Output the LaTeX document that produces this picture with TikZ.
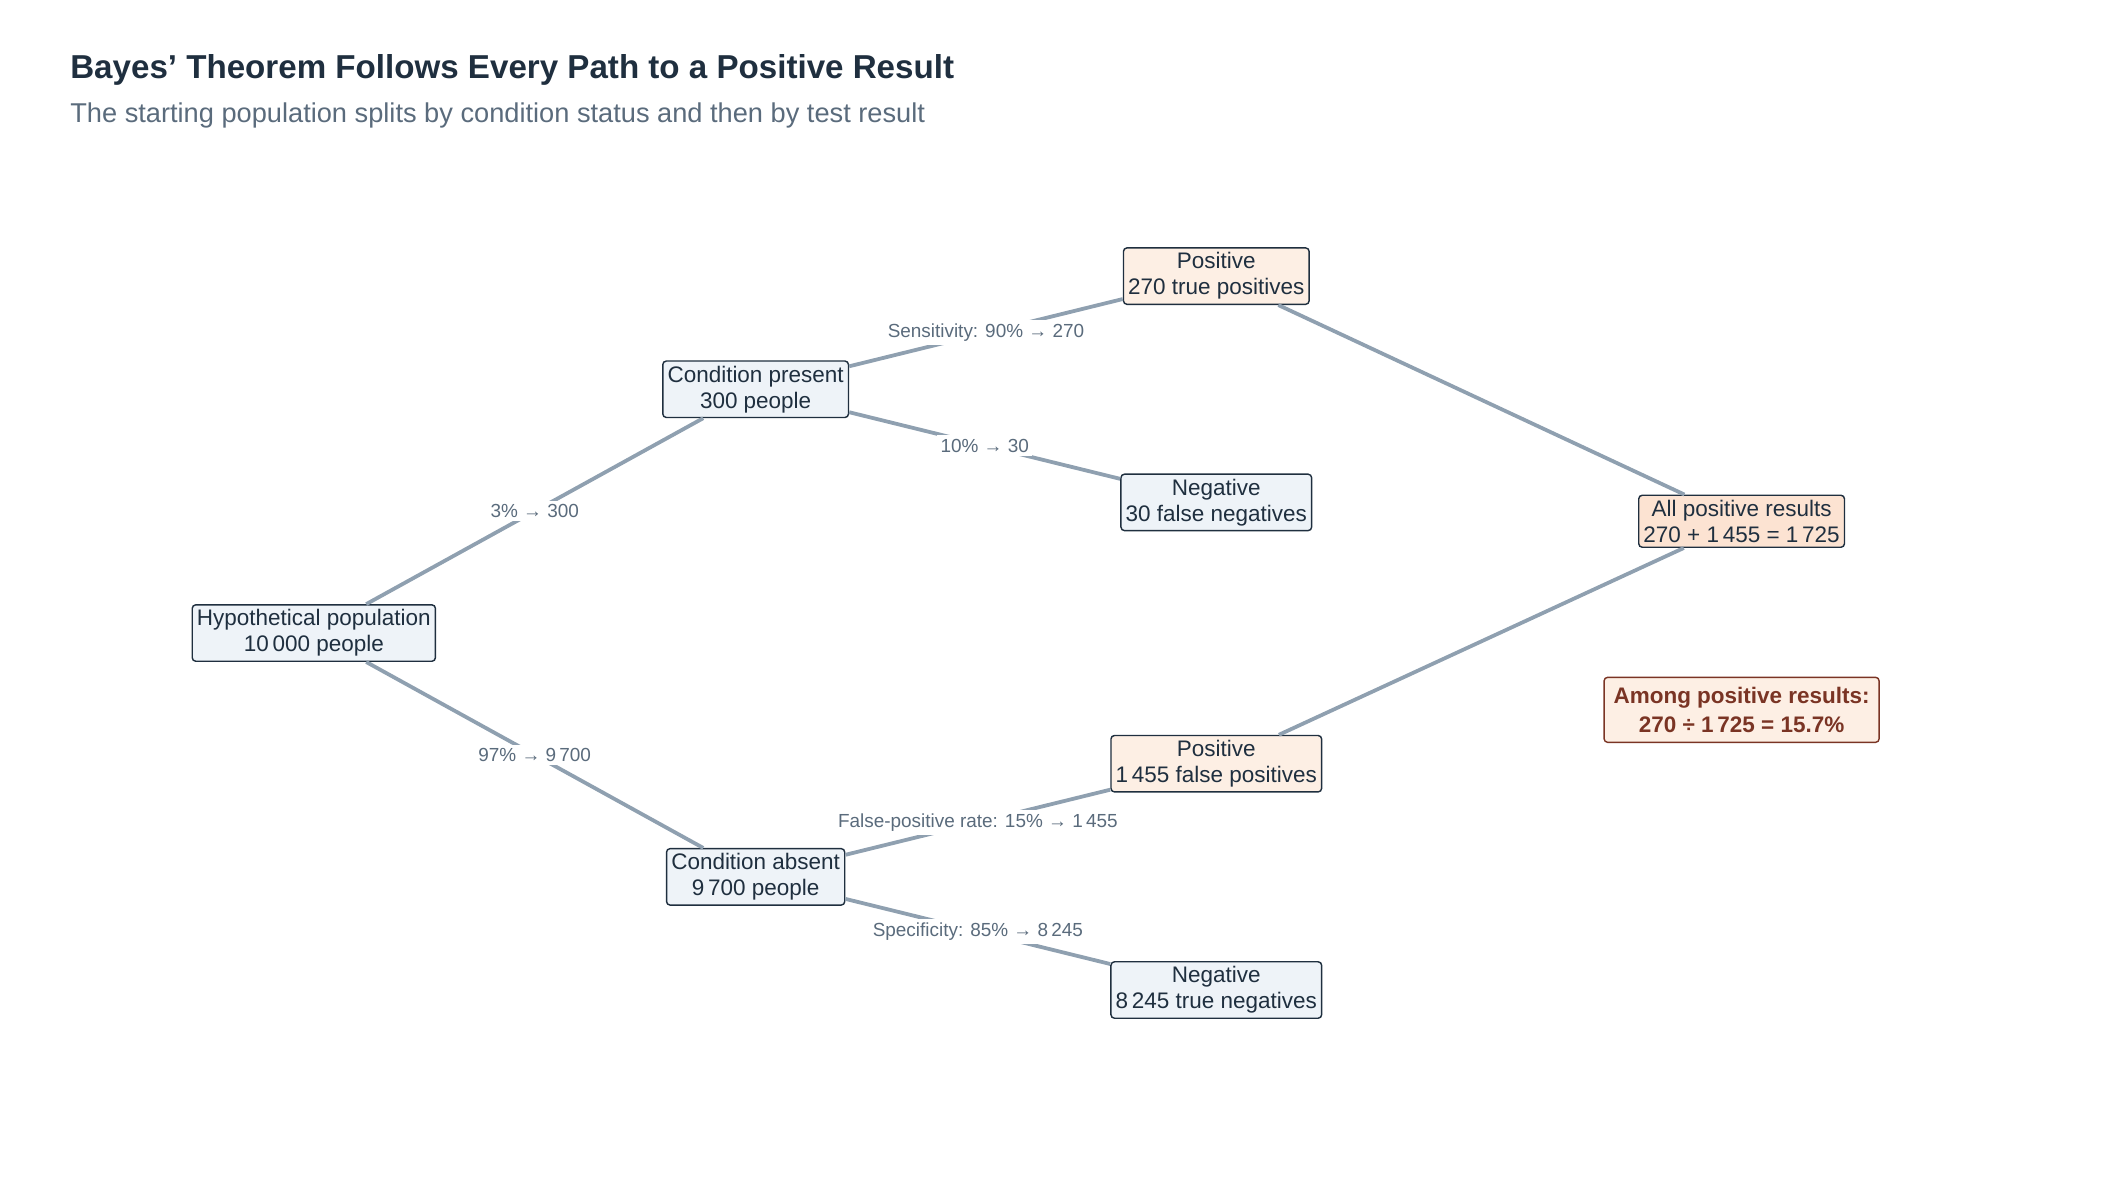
\documentclass[tikz,border=0pt]{standalone}
\usepackage{fontspec}
\setmainfont{Liberation Sans}
\usepackage{tikz}
\definecolor{ink}{HTML}{1F2F3F}
\definecolor{sub}{HTML}{5A6B7C}
\definecolor{edge}{HTML}{8FA0B0}
\definecolor{boxfill}{HTML}{EEF3F8}
\definecolor{posfill}{HTML}{FDEFE4}
\definecolor{allfill}{HTML}{FCE3D2}
\definecolor{warm}{HTML}{7A3424}
\tikzset{
  box/.style={draw=ink, fill=boxfill, rounded corners=1.5pt, align=center,
    font=\fontsize{9.5}{11}\selectfont, text=ink, inner sep=2pt, line width=0.6pt},
  posbox/.style={box, fill=posfill},
  link/.style={draw=edge, line width=1.6pt},
  lbl/.style={fill=white, inner sep=1.5pt, font=\fontsize{8}{9}\selectfont, text=sub}
}
\begin{document}
\begin{tikzpicture}[x=0.02cm, y=-0.02cm]
\useasboundingbox (0,0) rectangle (1568,884);

% Title
\node[anchor=west, font=\bfseries\fontsize{14}{16}\selectfont, text=ink] (title) at (46,52)
  {Bayes' Theorem Follows Every Path to a Positive Result};
\node[anchor=west, font=\fontsize{11.5}{13}\selectfont, text=sub] (subtitle) at (46,86)
  {The starting population splits by condition status and then by test result};

% Nodes
\node[box] (pop) at (233,470) {Hypothetical population\\10\,000 people};
\node[box] (present) at (561,289) {Condition present\\300 people};
\node[box] (absent) at (561,651) {Condition absent\\9\,700 people};
\node[posbox] (pos1) at (903,205) {Positive\\270 true positives};
\node[box] (neg1) at (903,373) {Negative\\30 false negatives};
\node[posbox] (pos2) at (903,567) {Positive\\1\,455 false positives};
\node[box] (neg2) at (903,735) {Negative\\8\,245 true negatives};
\node[box, fill=allfill] (all) at (1293,387) {All positive results\\270 + 1\,455 = 1\,725};
\node[box, draw=warm, fill=posfill, text=warm, font=\bfseries\fontsize{9.5}{12.5}\selectfont,
  inner sep=4pt] (among) at (1293,527) {Among positive results:\\270 ÷ 1\,725 = 15.7\%};

% Connectors
\begin{scope}[on background layer/.style={}]
\path[link] (pop) -- node[lbl] {3\%  →  300} (present);
\path[link] (pop) -- node[lbl] {97\%  →  9\,700} (absent);
\path[link] (present) -- node[lbl] {Sensitivity: 90\%  →  270} (pos1);
\path[link] (present) -- node[lbl] {10\%  →  30} (neg1);
\path[link] (absent) -- node[lbl] {False-positive rate: 15\%  →  1\,455} (pos2);
\path[link] (absent) -- node[lbl] {Specificity: 85\%  →  8\,245} (neg2);
\path[link] (pos1) -- (all);
\path[link] (pos2) -- (all);
\end{scope}
\end{tikzpicture}
\end{document}
